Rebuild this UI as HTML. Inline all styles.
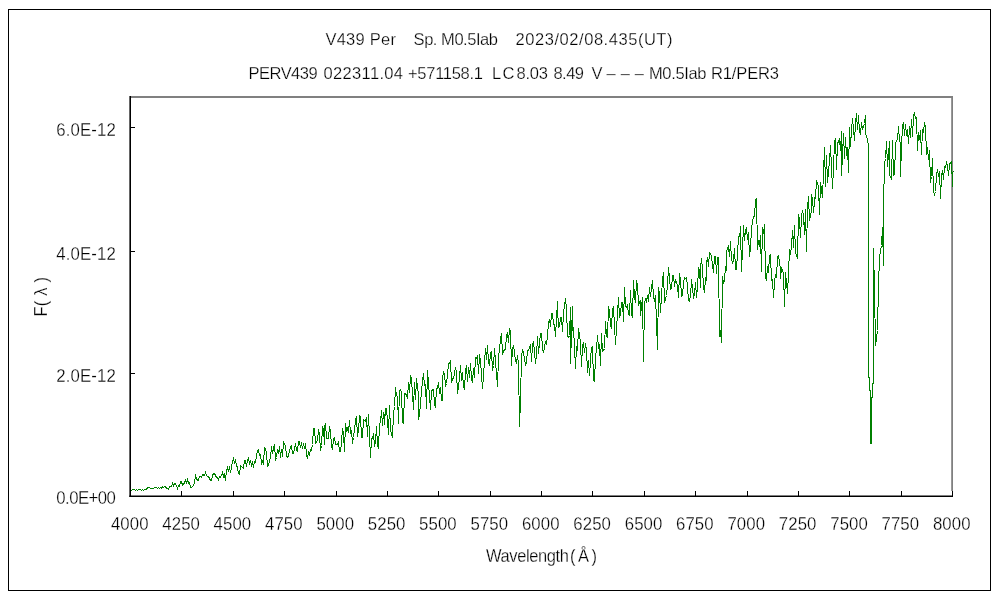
<!DOCTYPE html>
<html lang="ja">
<head>
<meta charset="utf-8">
<title>V439 Per spectrum</title>
<style>
html,body{margin:0;padding:0;background:#fff;}
body{width:1000px;height:600px;overflow:hidden;}
svg{display:block;}
.txt{opacity:0.999;}
text{font-family:"Liberation Sans","IPAGothic",sans-serif;font-size:16.5px;fill:#000;stroke:#fff;stroke-width:0.25px;}
text.ax{font-size:16.8px;}
</style>
</head>
<body>
<svg width="1000" height="600" viewBox="0 0 1000 600">
<rect x="0" y="0" width="1000" height="600" fill="#fff"/>
<!-- outer chart border -->
<rect x="8.5" y="9.5" width="982" height="581" fill="none" stroke="#000" stroke-width="1" shape-rendering="crispEdges"/>
<!-- plot area borders (gray top/right) -->
<line x1="130" y1="96.95" x2="953" y2="96.95" stroke="#808080" stroke-width="1.9"/>
<line x1="952.1" y1="96" x2="952.1" y2="491" stroke="#808080" stroke-width="1.8"/>
<!-- spectrum -->
<polyline fill="none" stroke="#008000" stroke-width="1" shape-rendering="crispEdges" stroke-linejoin="miter" points="130.5,490.5 131.5,490.5 132.5,489.5 133.5,489.5 134.5,489.5 135.5,490.5 136.5,489.5 137.5,490.5 138.5,489.5 139.5,489.5 140.5,489.5 141.5,490.5 142.5,489.5 143.5,490.5 144.5,489.5 146.5,489.5 147.5,487.5 148.5,487.5 149.5,487.5 150.5,488.5 151.5,488.5 152.5,488.5 153.5,488.5 154.5,487.5 155.5,487.5 156.5,487.5 157.5,488.5 158.5,487.5 159.5,488.5 160.5,487.5 161.5,488.5 162.5,486.5 163.5,487.5 164.5,486.5 165.5,486.5 166.5,488.5 167.5,488.5 168.5,489.5 169.5,486.5 170.5,486.5 171.5,486.5 172.5,483.5 173.5,485.5 174.5,483.5 175.5,483.5 177.5,488.5 178.5,485.5 179.5,486.5 180.5,481.5 181.5,481.5 182.5,485.5 183.5,484.5 185.5,480.5 186.5,482.5 187.5,479.5 188.5,483.5 189.5,482.5 190.5,487.5 191.5,487.5 192.5,486.5 194.5,483.5 195.5,474.5 196.5,479.5 198.5,480.5 199.5,476.5 200.5,476.5 201.5,477.5 202.5,474.5 204.5,475.5 205.5,472.5 206.5,475.5 207.5,476.5 208.5,476.5 210.5,480.5 211.5,480.5 212.5,475.5 213.5,473.5 214.5,473.5 216.5,477.5 217.5,477.5 218.5,479.5 219.5,476.5 220.5,477.5 222.5,472.5 223.5,476.5 224.5,474.5 225.5,480.5 226.5,470.5 227.5,467.5 228.5,471.5 229.5,466.5 230.5,472.5 232.5,461.5 233.5,458.5 234.5,463.5 235.5,459.5 236.5,465.5 237.5,467.5 238.5,473.5 239.5,474.5 240.5,465.5 242.5,467.5 243.5,468.5 244.5,460.5 245.5,460.5 246.5,466.5 246.5,464.5 248.5,457.5 249.5,464.5 250.5,460.5 251.5,465.5 252.5,462.5 253.5,467.5 254.5,461.5 255.5,462.5 257.5,450.5 258.5,449.5 259.5,455.5 260.5,454.5 261.5,463.5 262.5,461.5 263.5,463.5 264.5,447.5 265.5,448.5 266.5,453.5 267.5,466.5 268.5,465.5 270.5,456.5 270.5,457.5 271.5,446.5 272.5,453.5 273.5,448.5 274.5,444.5 275.5,459.5 276.5,457.5 277.5,449.5 278.5,453.5 279.5,446.5 280.5,457.5 281.5,449.5 282.5,456.5 283.5,441.5 284.5,444.5 285.5,445.5 286.5,456.5 287.5,457.5 288.5,455.5 290.5,446.5 291.5,445.5 292.5,453.5 293.5,453.5 295.5,443.5 296.5,450.5 297.5,451.5 298.5,441.5 299.5,441.5 300.5,447.5 301.5,442.5 302.5,448.5 303.5,443.5 304.5,448.5 305.5,443.5 306.5,454.5 307.5,458.5 308.5,451.5 309.5,454.5 310.5,449.5 311.5,450.5 312.5,444.5 313.5,428.5 314.5,428.5 315.5,443.5 317.5,440.5 318.5,429.5 319.5,434.5 320.5,450.5 321.5,445.5 322.5,427.5 323.5,429.5 324.5,444.5 324.5,426.5 325.5,423.5 326.5,438.5 328.5,438.5 329.5,426.5 330.5,430.5 331.5,446.5 332.5,449.5 333.5,438.5 334.5,437.5 335.5,444.5 337.5,444.5 338.5,441.5 339.5,451.5 340.5,451.5 341.5,442.5 342.5,428.5 343.5,433.5 344.5,451.5 345.5,423.5 346.5,430.5 347.5,428.5 348.5,432.5 349.5,420.5 350.5,433.5 351.5,430.5 352.5,443.5 353.5,437.5 355.5,420.5 356.5,416.5 357.5,436.5 358.5,430.5 359.5,415.5 360.5,416.5 361.5,437.5 362.5,437.5 363.5,419.5 365.5,421.5 366.5,417.5 367.5,436.5 368.5,414.5 370.5,457.5 371.5,438.5 372.5,438.5 373.5,433.5 374.5,446.5 375.5,441.5 376.5,426.5 377.5,445.5 378.5,448.5 379.5,424.5 380.5,421.5 381.5,410.5 382.5,425.5 383.5,412.5 384.5,415.5 384.5,424.5 385.5,408.5 386.5,408.5 388.5,434.5 388.5,433.5 389.5,405.5 390.5,430.5 392.5,437.5 393.5,413.5 394.5,406.5 395.5,387.5 396.5,395.5 397.5,396.5 398.5,423.5 399.5,390.5 400.5,389.5 401.5,392.5 402.5,422.5 403.5,423.5 404.5,393.5 406.5,394.5 407.5,398.5 408.5,382.5 409.5,392.5 410.5,375.5 411.5,378.5 413.5,409.5 414.5,382.5 415.5,399.5 416.5,378.5 418.5,394.5 418.5,419.5 419.5,414.5 422.5,380.5 423.5,373.5 424.5,385.5 425.5,384.5 426.5,408.5 427.5,370.5 430.5,409.5 431.5,391.5 432.5,389.5 433.5,389.5 434.5,404.5 435.5,406.5 436.5,388.5 437.5,388.5 438.5,382.5 439.5,393.5 440.5,387.5 441.5,400.5 442.5,400.5 442.5,378.5 443.5,372.5 444.5,374.5 445.5,385.5 446.5,383.5 447.5,375.5 448.5,363.5 449.5,363.5 450.5,360.5 451.5,382.5 452.5,378.5 453.5,378.5 455.5,367.5 456.5,372.5 457.5,393.5 458.5,387.5 460.5,365.5 461.5,380.5 462.5,372.5 463.5,386.5 464.5,389.5 465.5,370.5 466.5,365.5 467.5,381.5 468.5,367.5 469.5,377.5 470.5,363.5 471.5,378.5 472.5,382.5 473.5,368.5 474.5,377.5 475.5,357.5 476.5,358.5 477.5,355.5 478.5,373.5 479.5,354.5 480.5,360.5 482.5,388.5 485.5,348.5 486.5,359.5 487.5,345.5 488.5,362.5 489.5,365.5 490.5,352.5 491.5,351.5 492.5,370.5 493.5,365.5 494.5,348.5 497.5,386.5 498.5,357.5 500.5,339.5 501.5,333.5 502.5,354.5 503.5,350.5 505.5,349.5 506.5,335.5 507.5,332.5 508.5,342.5 509.5,328.5 510.5,331.5 511.5,365.5 512.5,348.5 513.5,345.5 515.5,360.5 516.5,362.5 517.5,355.5 518.5,363.5 519.5,426.5 520.5,400.5 521.5,356.5 522.5,349.5 523.5,352.5 525.5,364.5 526.5,362.5 527.5,350.5 528.5,350.5 530.5,344.5 531.5,361.5 532.5,345.5 533.5,341.5 535.5,363.5 536.5,355.5 537.5,336.5 537.5,338.5 538.5,353.5 540.5,333.5 541.5,333.5 542.5,348.5 543.5,352.5 545.5,341.5 546.5,344.5 547.5,335.5 548.5,322.5 549.5,319.5 550.5,326.5 551.5,313.5 552.5,313.5 553.5,323.5 554.5,325.5 555.5,336.5 557.5,301.5 557.5,307.5 558.5,327.5 559.5,326.5 560.5,317.5 561.5,317.5 562.5,331.5 563.5,312.5 565.5,298.5 566.5,308.5 567.5,336.5 568.5,337.5 569.5,335.5 570.5,307.5 570.5,363.5 572.5,306.5 572.5,330.5 573.5,327.5 575.5,368.5 576.5,346.5 577.5,350.5 578.5,328.5 579.5,335.5 580.5,342.5 581.5,366.5 582.5,346.5 583.5,342.5 584.5,352.5 585.5,343.5 586.5,349.5 587.5,372.5 588.5,360.5 589.5,375.5 590.5,360.5 590.5,359.5 591.5,347.5 592.5,346.5 593.5,380.5 594.5,381.5 595.5,357.5 596.5,348.5 597.5,335.5 598.5,347.5 599.5,345.5 600.5,365.5 601.5,333.5 602.5,351.5 603.5,350.5 604.5,348.5 605.5,321.5 606.5,336.5 607.5,337.5 608.5,306.5 609.5,310.5 610.5,325.5 611.5,327.5 612.5,309.5 613.5,307.5 615.5,344.5 618.5,297.5 619.5,317.5 620.5,313.5 621.5,302.5 622.5,302.5 623.5,321.5 624.5,287.5 625.5,306.5 626.5,307.5 627.5,304.5 628.5,314.5 629.5,315.5 630.5,290.5 631.5,314.5 632.5,317.5 633.5,280.5 634.5,297.5 635.5,302.5 636.5,280.5 637.5,285.5 638.5,304.5 640.5,300.5 640.5,315.5 642.5,297.5 643.5,361.5 644.5,302.5 645.5,299.5 646.5,301.5 647.5,295.5 648.5,301.5 649.5,287.5 650.5,296.5 652.5,280.5 653.5,296.5 654.5,300.5 655.5,303.5 655.5,295.5 657.5,349.5 658.5,287.5 659.5,293.5 660.5,312.5 662.5,279.5 663.5,272.5 664.5,302.5 666.5,295.5 667.5,285.5 668.5,267.5 670.5,289.5 671.5,288.5 672.5,275.5 673.5,275.5 674.5,286.5 675.5,280.5 676.5,282.5 677.5,285.5 678.5,297.5 679.5,273.5 680.5,279.5 681.5,296.5 682.5,295.5 683.5,283.5 684.5,277.5 685.5,278.5 686.5,277.5 687.5,286.5 688.5,300.5 689.5,301.5 690.5,295.5 691.5,280.5 691.5,279.5 692.5,287.5 693.5,298.5 694.5,293.5 695.5,282.5 696.5,297.5 697.5,287.5 698.5,268.5 699.5,270.5 700.5,287.5 700.5,268.5 701.5,258.5 702.5,268.5 703.5,287.5 704.5,292.5 705.5,278.5 706.5,280.5 706.5,263.5 707.5,257.5 708.5,266.5 709.5,252.5 710.5,253.5 711.5,256.5 713.5,272.5 714.5,256.5 715.5,256.5 716.5,273.5 717.5,257.5 718.5,257.5 719.5,336.5 720.5,330.5 721.5,342.5 722.5,276.5 723.5,283.5 724.5,279.5 725.5,266.5 726.5,270.5 726.5,251.5 727.5,248.5 728.5,246.5 729.5,256.5 730.5,241.5 731.5,259.5 732.5,262.5 733.5,260.5 734.5,248.5 735.5,269.5 736.5,269.5 737.5,252.5 738.5,238.5 739.5,234.5 740.5,236.5 740.5,226.5 741.5,271.5 743.5,225.5 744.5,240.5 745.5,230.5 746.5,228.5 747.5,239.5 748.5,232.5 749.5,256.5 750.5,248.5 751.5,228.5 752.5,221.5 753.5,216.5 754.5,216.5 755.5,200.5 756.5,198.5 757.5,249.5 758.5,240.5 759.5,246.5 759.5,245.5 760.5,235.5 761.5,271.5 762.5,227.5 763.5,233.5 764.5,224.5 765.5,277.5 766.5,279.5 767.5,266.5 768.5,272.5 769.5,256.5 770.5,254.5 771.5,280.5 772.5,279.5 773.5,297.5 774.5,282.5 775.5,274.5 776.5,277.5 777.5,256.5 778.5,255.5 780.5,269.5 780.5,278.5 781.5,267.5 783.5,273.5 784.5,306.5 785.5,272.5 787.5,293.5 788.5,273.5 789.5,249.5 790.5,254.5 791.5,245.5 792.5,230.5 793.5,247.5 794.5,225.5 795.5,252.5 797.5,258.5 798.5,214.5 799.5,219.5 800.5,237.5 801.5,216.5 802.5,210.5 803.5,214.5 804.5,234.5 804.5,234.5 805.5,209.5 806.5,251.5 807.5,207.5 808.5,196.5 809.5,220.5 811.5,210.5 811.5,194.5 812.5,198.5 813.5,212.5 815.5,191.5 815.5,198.5 816.5,180.5 818.5,186.5 819.5,214.5 820.5,182.5 822.5,197.5 824.5,147.5 825.5,186.5 825.5,179.5 826.5,155.5 827.5,182.5 829.5,160.5 830.5,145.5 831.5,167.5 832.5,188.5 833.5,168.5 834.5,141.5 835.5,138.5 836.5,169.5 837.5,143.5 839.5,139.5 840.5,150.5 841.5,131.5 841.5,175.5 843.5,133.5 844.5,158.5 845.5,137.5 846.5,155.5 847.5,147.5 848.5,172.5 849.5,127.5 850.5,146.5 851.5,130.5 852.5,118.5 854.5,140.5 855.5,123.5 856.5,113.5 857.5,129.5 858.5,115.5 859.5,131.5 860.5,134.5 861.5,122.5 862.5,129.5 864.5,123.5 865.5,115.5 865.5,133.5 867.5,139.5 868.5,146.5 868.5,150.5 868.5,377.5 869.5,377.5 869.5,390.5 870.5,390.5 870.5,443.5 871.5,443.5 871.5,397.5 872.5,397.5 872.5,383.5 873.5,383.5 873.5,248.5 874.5,290.5 875.5,345.5 877.5,330.5 878.5,285.5 879.5,257.5 881.5,245.5 882.5,227.5 883.5,265.5 883.5,205.5 884.5,164.5 885.5,158.5 886.5,141.5 887.5,166.5 889.5,141.5 889.5,174.5 891.5,179.5 892.5,140.5 893.5,175.5 894.5,174.5 895.5,146.5 895.5,142.5 897.5,139.5 898.5,126.5 899.5,140.5 900.5,143.5 900.5,176.5 901.5,147.5 902.5,125.5 903.5,122.5 904.5,135.5 905.5,124.5 906.5,135.5 907.5,129.5 908.5,143.5 909.5,126.5 910.5,137.5 911.5,119.5 912.5,136.5 913.5,116.5 914.5,112.5 915.5,118.5 916.5,117.5 917.5,150.5 918.5,132.5 919.5,139.5 920.5,130.5 921.5,154.5 922.5,129.5 923.5,132.5 924.5,122.5 925.5,126.5 926.5,154.5 927.5,147.5 928.5,159.5 929.5,150.5 930.5,182.5 931.5,176.5 932.5,158.5 933.5,191.5 934.5,194.5 935.5,191.5 936.5,174.5 937.5,169.5 938.5,176.5 939.5,171.5 940.5,198.5 941.5,175.5 942.5,170.5 943.5,179.5 944.5,166.5 945.5,167.5 946.5,162.5 947.5,165.5 948.5,175.5 949.5,164.5 950.5,162.5 951.5,161.5 952.5,186.5 952.5,172.5 953.5,171.5"/>
<!-- axes -->
<line x1="130.2" y1="96" x2="130.2" y2="497" stroke="#000" stroke-width="1.6"/>
<line x1="129.4" y1="496.2" x2="953" y2="496.2" stroke="#000" stroke-width="1.6"/>
<g stroke="#000" stroke-width="1" shape-rendering="crispEdges">
<line x1="181.5" y1="491" x2="181.5" y2="496"/>
<line x1="233.5" y1="491" x2="233.5" y2="496"/>
<line x1="284.5" y1="491" x2="284.5" y2="496"/>
<line x1="336.5" y1="491" x2="336.5" y2="496"/>
<line x1="387.5" y1="491" x2="387.5" y2="496"/>
<line x1="438.5" y1="491" x2="438.5" y2="496"/>
<line x1="490.5" y1="491" x2="490.5" y2="496"/>
<line x1="541.5" y1="491" x2="541.5" y2="496"/>
<line x1="592.5" y1="491" x2="592.5" y2="496"/>
<line x1="644.5" y1="491" x2="644.5" y2="496"/>
<line x1="695.5" y1="491" x2="695.5" y2="496"/>
<line x1="747.5" y1="491" x2="747.5" y2="496"/>
<line x1="798.5" y1="491" x2="798.5" y2="496"/>
<line x1="849.5" y1="491" x2="849.5" y2="496"/>
<line x1="901.5" y1="491" x2="901.5" y2="496"/>
<line x1="952.5" y1="491" x2="952.5" y2="496"/>
<line x1="131" y1="127.5" x2="135" y2="127.5"/>
<line x1="131" y1="251.5" x2="135" y2="251.5"/>
<line x1="131" y1="373.5" x2="135" y2="373.5"/>
</g>
<g class="txt">
<text class="ax" transform="translate(115.8,136.2) scale(1,1.1)" x="0" y="0" text-anchor="end" textLength="59.5" lengthAdjust="spacing">6.0E-12</text>
<text class="ax" transform="translate(115.8,260.2) scale(1,1.1)" x="0" y="0" text-anchor="end" textLength="59.5" lengthAdjust="spacing">4.0E-12</text>
<text class="ax" transform="translate(115.8,382.2) scale(1,1.1)" x="0" y="0" text-anchor="end" textLength="59.5" lengthAdjust="spacing">2.0E-12</text>
<text class="ax" transform="translate(115.8,503.8) scale(1,1.1)" x="0" y="0" text-anchor="end" textLength="59.5" lengthAdjust="spacing">0.0E+00</text>
<text class="ax" transform="translate(129.7,530) scale(1,1.1)" x="0" y="0" text-anchor="middle" textLength="37.6" lengthAdjust="spacing">4000</text>
<text class="ax" transform="translate(181.1,530) scale(1,1.1)" x="0" y="0" text-anchor="middle" textLength="37.6" lengthAdjust="spacing">4250</text>
<text class="ax" transform="translate(232.4,530) scale(1,1.1)" x="0" y="0" text-anchor="middle" textLength="37.6" lengthAdjust="spacing">4500</text>
<text class="ax" transform="translate(283.8,530) scale(1,1.1)" x="0" y="0" text-anchor="middle" textLength="37.6" lengthAdjust="spacing">4750</text>
<text class="ax" transform="translate(335.2,530) scale(1,1.1)" x="0" y="0" text-anchor="middle" textLength="37.6" lengthAdjust="spacing">5000</text>
<text class="ax" transform="translate(386.6,530) scale(1,1.1)" x="0" y="0" text-anchor="middle" textLength="37.6" lengthAdjust="spacing">5250</text>
<text class="ax" transform="translate(437.9,530) scale(1,1.1)" x="0" y="0" text-anchor="middle" textLength="37.6" lengthAdjust="spacing">5500</text>
<text class="ax" transform="translate(489.3,530) scale(1,1.1)" x="0" y="0" text-anchor="middle" textLength="37.6" lengthAdjust="spacing">5750</text>
<text class="ax" transform="translate(540.7,530) scale(1,1.1)" x="0" y="0" text-anchor="middle" textLength="37.6" lengthAdjust="spacing">6000</text>
<text class="ax" transform="translate(592.1,530) scale(1,1.1)" x="0" y="0" text-anchor="middle" textLength="37.6" lengthAdjust="spacing">6250</text>
<text class="ax" transform="translate(643.5,530) scale(1,1.1)" x="0" y="0" text-anchor="middle" textLength="37.6" lengthAdjust="spacing">6500</text>
<text class="ax" transform="translate(694.8,530) scale(1,1.1)" x="0" y="0" text-anchor="middle" textLength="37.6" lengthAdjust="spacing">6750</text>
<text class="ax" transform="translate(746.2,530) scale(1,1.1)" x="0" y="0" text-anchor="middle" textLength="37.6" lengthAdjust="spacing">7000</text>
<text class="ax" transform="translate(797.6,530) scale(1,1.1)" x="0" y="0" text-anchor="middle" textLength="37.6" lengthAdjust="spacing">7250</text>
<text class="ax" transform="translate(849.0,530) scale(1,1.1)" x="0" y="0" text-anchor="middle" textLength="37.6" lengthAdjust="spacing">7500</text>
<text class="ax" transform="translate(900.3,530) scale(1,1.1)" x="0" y="0" text-anchor="middle" textLength="37.6" lengthAdjust="spacing">7750</text>
<text class="ax" transform="translate(951.7,530) scale(1,1.1)" x="0" y="0" text-anchor="middle" textLength="37.6" lengthAdjust="spacing">8000</text>
<text x="325.4" y="44.6" textLength="70.6" lengthAdjust="spacing">V439 Per</text>
<text x="413.6" y="44.6" textLength="84.4" lengthAdjust="spacing">Sp. M0.5Iab</text>
<text x="515.6" y="44.6" textLength="156.9" lengthAdjust="spacing">2023/02/08.435(UT)</text>
<text x="248.6" y="78.5" textLength="69.0" lengthAdjust="spacing">PERV439</text>
<text x="323.6" y="78.5" textLength="79.4" lengthAdjust="spacing">022311.04</text>
<text x="408" y="78.5" textLength="75.0" lengthAdjust="spacing">+571158.1</text>
<text x="492" y="78.5" textLength="22.4" lengthAdjust="spacing">LC</text>
<text x="516.5" y="78.5" textLength="31.5" lengthAdjust="spacing">8.03</text>
<text x="553.4" y="78.5" textLength="30.6" lengthAdjust="spacing">8.49</text>
<text x="591.5" y="78.5" textLength="10.5" lengthAdjust="spacing">V</text>
<text x="606.5" y="78.5" textLength="37.5" lengthAdjust="spacing">–––</text>
<text x="649" y="78.5" textLength="57.4" lengthAdjust="spacing">M0.5Iab</text>
<text x="711" y="78.5" textLength="68.0" lengthAdjust="spacing">R1/PER3</text>
<text transform="translate(486,562) scale(1,1.1)" x="0" y="0" textLength="83" lengthAdjust="spacing">Wavelength</text>
<text transform="translate(570,562) scale(1,1.1)" x="0" y="0" textLength="27" lengthAdjust="spacing">( Å )</text>
<text transform="translate(47,316.5) rotate(-90) scale(1,1.1)" x="0" y="0" textLength="39.5" lengthAdjust="spacing">F( λ )</text>
</g>
</svg>
</body>
</html>
